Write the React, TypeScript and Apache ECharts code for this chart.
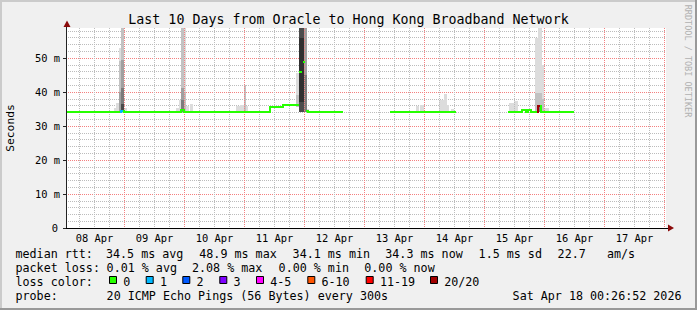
import React, { useEffect, useRef } from 'react';
import * as echarts from 'echarts';

const TITLE = 'Last 10 Days from Oracle to Hong Kong Broadband Network';
const Y_NAME = 'Seconds';
const SIDE_TEXT = 'RRDTOOL / TOBI OETIKER';

// x axis: hours since 08 Apr 00:00
const X_MIN = 0.6;
const X_MAX = 240.6;
const Y_MAX = 58.82;

const DAY_LABELS = ['08 Apr', '09 Apr', '10 Apr', '11 Apr', '12 Apr', '13 Apr', '14 Apr', '15 Apr', '16 Apr', '17 Apr'];
const DAY_LABEL_HOURS = [12, 36, 60, 84, 108, 132, 156, 180, 204, 228];
const Y_TICKS = [0, 10, 20, 30, 40, 50];

// median rtt runs: [startHour, endHour, ms, lossIndex]
const MEDIAN_RUNS: number[][] = [
  [1.0, 22.4, 34.3, 0],
  [22.4, 23.7, 34.6, 1],
  [23.7, 46.6, 34.3, 0],
  [46.6, 47.6, 34.8, 0],
  [47.6, 82.0, 34.3, 0],
  [82.0, 87.5, 35.8, 0],
  [87.5, 93.7, 36.2, 0],
  [93.9, 95.1, 46.1, 0],
  [95.3, 96.3, 49.0, 0],
  [96.4, 97.2, 34.6, 0],
  [97.2, 111.2, 34.3, 0],
  [130.0, 156.4, 34.3, 0],
  [177.2, 182.8, 34.3, 0],
  [182.8, 184.4, 34.9, 0],
  [184.4, 185.2, 34.3, 0],
  [185.2, 186.4, 34.9, 0],
  [186.4, 189.5, 34.3, 0],
  [189.5, 190.4, 35.9, 7],
  [190.4, 203.6, 34.3, 0],
];

// smoke bands: [startHour, endHour, lowMs, highMs, shade]
const SMOKE: number[][] = [
  [19.6, 20.6, 34.2, 35.3, 0],
  [20.6, 21.7, 34.2, 36.9, 0],
  [21.7, 22.7, 34.2, 52.9, 0],
  [21.7, 22.7, 34.2, 49.0, 1],
  [21.7, 22.7, 34.2, 40.0, 2],
  [22.7, 23.7, 34.2, 58.8, 1],
  [22.7, 23.7, 34.2, 49.5, 2],
  [22.7, 23.7, 34.2, 41.2, 3],
  [22.7, 23.7, 34.2, 36.5, 4],
  [23.7, 25.1, 34.2, 35.3, 0],

  [44.4, 45.6, 34.2, 35.3, 0],
  [45.6, 46.6, 34.2, 37.5, 0],
  [46.6, 47.6, 34.2, 58.8, 1],
  [46.6, 47.6, 34.2, 41.2, 2],
  [46.6, 47.6, 34.2, 37.5, 3],
  [47.6, 48.5, 34.2, 58.8, 0],
  [47.6, 48.5, 34.2, 40.0, 1],
  [48.5, 49.8, 34.2, 36.0, 0],
  [50.2, 51.5, 34.2, 36.6, 0],

  [68.4, 70.1, 34.2, 35.8, 0],
  [70.1, 71.7, 34.2, 36.2, 0],
  [71.7, 72.4, 34.2, 42.2, 1],
  [72.4, 73.2, 34.2, 36.0, 0],

  [92.4, 93.7, 35.5, 45.6, 0],
  [92.4, 93.7, 35.5, 39.0, 1],
  [93.7, 95.7, 34.0, 58.8, 4],
  [93.7, 95.7, 37.0, 56.0, 5],
  [95.7, 97.0, 34.2, 58.8, 2],
  [95.7, 97.0, 34.2, 45.0, 3],
  [97.0, 97.8, 34.2, 35.0, 0],

  [140.4, 141.7, 34.2, 35.8, 0],
  [142.1, 143.7, 34.2, 36.3, 0],
  [149.7, 151.7, 34.2, 37.7, 0],
  [151.7, 152.8, 34.2, 39.5, 0],
  [152.8, 153.7, 34.2, 36.3, 0],
  [154.4, 155.7, 34.2, 35.0, 0],

  [177.6, 179.7, 34.2, 36.8, 0],
  [179.7, 181.3, 34.2, 37.4, 0],
  [188.1, 189.5, 34.2, 55.9, 0],
  [188.1, 189.5, 34.2, 39.7, 1],
  [189.5, 190.8, 34.2, 58.8, 0],
  [189.5, 190.8, 34.2, 39.7, 1],
  [189.5, 190.8, 34.2, 36.0, 3],
  [190.8, 191.7, 34.2, 48.0, 0],
  [190.8, 191.7, 34.2, 38.0, 1],
  [191.7, 193.7, 34.2, 35.3, 0],
];

const LOSS_LABELS = ['0', '1', '2', '3', '4-5', '6-10', '11-19', '20/20'];
const LOSS_COLORS = ['#26ff00', '#00b8ff', '#0059ff', '#7e00ff', '#ff00ff', '#ff5500', '#ff0000', '#a10000'];

const RTT_STATS = ['34.5 ms avg', '48.9 ms max', '34.1 ms min', '34.3 ms now', '1.5 ms sd', '22.7', 'am/s'];
const LOSS_STATS = ['0.01 % avg', '2.08 % max', '0.00 % min', '0.00 % now'];
const PROBE_TEXT = '20 ICMP Echo Pings (56 Bytes) every 300s';
const TIMESTAMP = 'Sat Apr 18 00:26:52 2026';

const MONO = '"DejaVu Sans Mono", monospace';
const SHADES = ['#dcdcdc', '#c2c2c2', '#a0a0a0', '#7c7c7c', '#4c4c4c', '#303030'];
const MINOR = '#bcbcbc';
const MAJOR = '#f48080';

const snap = (v: number) => Math.floor(v + 1e-6) + 0.5;

export default function App() {
  const ref = useRef<HTMLDivElement>(null);

  useEffect(() => {
    if (!ref.current) return;
    const chart = echarts.init(ref.current, null, { renderer: 'svg' });

    const legendFont = '11.7px ' + MONO;
    const txt = (text: string, x: number, y: number) => ({
      type: 'text',
      silent: true,
      style: { text, x, y, font: legendFont, fill: '#000', textAlign: 'left', textVerticalAlign: 'middle' },
    });

    const rttX = [106, 199.3, 292.6, 385.3, 478.6, 557.6, 607];
    const lossX = [106.6, 192, 278.6, 364.3];
    const boxX = [109, 145.7, 182.3, 219.3, 256, 307.3, 365.7, 430];
    const L1 = 253.7, L2 = 267.7, L3 = 281.7, L4 = 295.7;

    const graphics: any[] = [
      { type: 'rect', silent: true, shape: { x: 0, y: 0, width: 697, height: 2 }, style: { fill: '#cbcbcb' } },
      { type: 'rect', silent: true, shape: { x: 0, y: 0, width: 2, height: 310 }, style: { fill: '#cbcbcb' } },
      { type: 'rect', silent: true, shape: { x: 0, y: 308, width: 697, height: 2 }, style: { fill: '#999999' } },
      { type: 'rect', silent: true, shape: { x: 695, y: 0, width: 2, height: 310 }, style: { fill: '#999999' } },
      { type: 'text', silent: true, style: { text: TITLE, x: 348.5, y: 19, font: '13.3px ' + MONO, fill: '#000', textAlign: 'center', textVerticalAlign: 'middle' } },
      { type: 'text', silent: true, x: 10, y: 128, rotation: Math.PI / 2, style: { text: Y_NAME, x: 0, y: 0, font: '11.3px ' + MONO, fill: '#000', textAlign: 'center', textVerticalAlign: 'middle' } },
      { type: 'text', silent: true, x: 688, y: 61, rotation: -Math.PI / 2, style: { text: SIDE_TEXT, x: 0, y: 0, font: '8.5px ' + MONO, fill: '#b0b0b0', textAlign: 'center', textVerticalAlign: 'middle' } },
      { type: 'polygon', silent: true, z: 20, shape: { points: [[63.5, 27], [70.5, 27], [67, 20.5]] }, style: { fill: '#8b0a0a' } },
      { type: 'line', silent: true, shape: { x1: 66.5, y1: 26, x2: 66.5, y2: 28.5 }, style: { stroke: '#222', lineWidth: 1 } },
      { type: 'polygon', silent: true, z: 20, shape: { points: [[668, 224.5], [668, 231.5], [674, 228]] }, style: { fill: '#8b0a0a' } },
      { type: 'line', silent: true, shape: { x1: 665, y1: 228.5, x2: 668.5, y2: 228.5 }, style: { stroke: '#000', lineWidth: 1 } },
      txt('median rtt:', 15.5, L1),
      ...RTT_STATS.map((s, i) => txt(s, rttX[i], L1)),
      txt('packet loss:', 15.5, L2),
      ...LOSS_STATS.map((s, i) => txt(s, lossX[i], L2)),
      txt('loss color:', 15.5, L3),
      ...LOSS_LABELS.map((s, i) => txt(s, boxX[i] + 14.2, L3)),
      ...LOSS_COLORS.map((c, i) => ({
        type: 'rect', silent: true,
        shape: { x: boxX[i] + 0.5, y: 276.5, width: 7, height: 7 },
        style: { fill: c, stroke: '#000', lineWidth: 1 },
      })),
      txt('probe:', 15.5, L4),
      txt(PROBE_TEXT, 106.6, L4),
      txt(TIMESTAMP, 512.6, L4),
    ];

    const option: any = {
      animation: false,
      backgroundColor: '#f0f0f0',
      grid: { left: 66, right: 31, top: 28, bottom: 82, show: true, backgroundColor: '#ffffff', borderWidth: 0 },
      xAxis: {
        type: 'value',
        min: X_MIN,
        max: X_MAX,
        splitLine: { show: false },
        axisTick: { show: false },
        axisLine: { show: true, onZero: false, lineStyle: { color: '#000', width: 1 } },
        axisLabel: {
          customValues: DAY_LABEL_HOURS,
          formatter: (v: number) => {
            const i = DAY_LABEL_HOURS.indexOf(Math.round(v));
            return i >= 0 ? DAY_LABELS[i] : '';
          },
          fontFamily: MONO,
          fontSize: 10.4,
          color: '#000',
          margin: 5,
        },
      },
      yAxis: {
        type: 'value',
        min: 0,
        max: Y_MAX,
        interval: 10,
        splitLine: { show: true, lineStyle: { color: MAJOR, type: [1, 1], width: 1 } },
        minorTick: { show: false, splitNumber: 5 },
        minorSplitLine: { show: true, lineStyle: { color: MINOR, type: [1, 1], width: 1 } },
        axisLine: { show: true, lineStyle: { color: '#222', width: 1 } },
        axisTick: { show: true, length: 3, customValues: Y_TICKS, lineStyle: { color: '#222' } },
        axisLabel: {
          customValues: Y_TICKS,
          formatter: (v: number) => (Math.abs(v) < 1e-9 ? '{z|0}' : Math.abs(v % 10) < 1e-9 ? `${v} m` : ''),
          rich: { z: { fontFamily: MONO, fontSize: 10.4, color: '#000', padding: [0, 2, 0, 0] } },
          fontFamily: MONO,
          fontSize: 10.4,
          color: '#000',
          margin: 6,
        },
      },
      series: [
        {
          id: 'smoke',
          type: 'custom',
          name: 'smoke',
          silent: true,
          z: 1,
          data: SMOKE,
          encode: { x: [0, 1], y: [2, 3] },
          renderItem: (params: any, api: any) => {
            const h0 = api.value(0), h1 = api.value(1);
            const lo = api.value(2), hi = Math.min(api.value(3), Y_MAX);
            const a = api.coord([h0, hi]);
            const b = api.coord([h1, lo]);
            const x0 = Math.round(a[0]), x1 = Math.round(b[0]);
            const y0 = Math.round(a[1]), y1 = Math.round(b[1]);
            return {
              type: 'rect',
              shape: { x: x0, y: y0, width: Math.max(1, x1 - x0), height: Math.max(1, y1 - y0) },
              style: { fill: SHADES[api.value(4)] },
            };
          },
        },
        {
          id: 'median',
          type: 'custom',
          name: 'median rtt',
          silent: true,
          z: 10,
          data: MEDIAN_RUNS,
          encode: { x: [0, 1], y: 2 },
          renderItem: (params: any, api: any) => {
            const idx = params.dataIndex;
            const h0 = api.value(0), h1 = api.value(1), v = api.value(2), loss = api.value(3);
            const a = api.coord([h0, v]);
            const b = api.coord([h1, v]);
            const x0 = Math.round(a[0]), x1 = Math.round(b[0]);
            const y = Math.floor(a[1]);
            const children: any[] = [
              { type: 'rect', shape: { x: x0, y, width: Math.max(1, x1 - x0), height: 2 }, style: { fill: LOSS_COLORS[loss] } },
            ];
            const prev = MEDIAN_RUNS[idx - 1];
            if (prev && Math.abs(prev[1] - h0) < 0.01 && Math.abs(prev[2] - v) < 2) {
              const py = Math.floor(api.coord([h0, prev[2]])[1]);
              children.push({
                type: 'rect',
                shape: { x: x0 - 1, y: Math.min(py, y), width: 2, height: Math.abs(py - y) + 2 },
                style: { fill: LOSS_COLORS[loss] },
              });
            }
            return { type: 'group', children };
          },
        },
      ],
      graphic: graphics,
    };

    chart.setOption(option);

    // vertical grid lines (every 6 h, red at midnight), placed through the axis scale
    const tl = chart.convertToPixel({ gridIndex: 0 }, [X_MIN, Y_MAX]) as number[];
    const br = chart.convertToPixel({ gridIndex: 0 }, [X_MAX, 0]) as number[];
    const gridEls: any[] = [];
    for (let h = 6; h <= 240; h += 6) {
      const p = chart.convertToPixel({ gridIndex: 0 }, [h, 0]) as number[];
      const x = snap(p[0]);
      if (x < tl[0] || x > br[0] + 1) continue;
      gridEls.push({
        type: 'line', silent: true, z: 5,
        shape: { x1: x, y1: tl[1], x2: x, y2: br[1] },
        style: { stroke: h % 24 === 0 ? MAJOR : MINOR, lineWidth: 1, lineDash: [1, 1] },
      });
    }
    chart.setOption({ graphic: [...graphics, ...gridEls] });

    return () => chart.dispose();
  }, []);

  return <div ref={ref} style={{ position: 'fixed', left: 0, top: 0, width: 697, height: 310 }} />;
}
